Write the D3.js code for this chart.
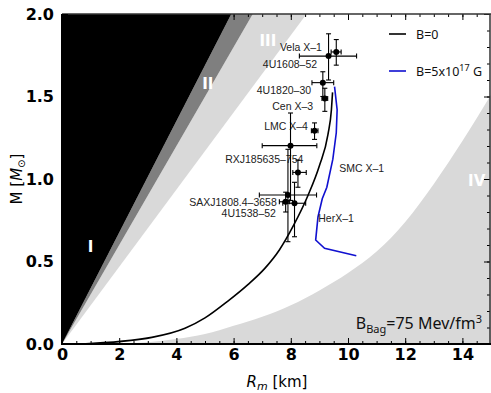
<!DOCTYPE html>
<html>
<head>
<meta charset="utf-8">
<script src="https://cdn.jsdelivr.net/npm/d3@7"></script>
<style>
  body { margin: 0; background: #fff; }
  svg { display: block; }
  .tick text { font-family: "DejaVu Sans", sans-serif; font-weight: bold; font-size: 16px; fill: #000; }
  .tick line { stroke: #000; }
  .domain { stroke: none; }
</style>
</head>
<body>
<svg id="mr" width="491" height="393"></svg>
<script>
// region boundaries: R where each straight limit reaches M = 2 (I black hole, II Buchdahl, III causality)
const limitTopR = [5.92, 6.67, 8.55];
// region IV (rotation limit) boundary
const rotR = [2, 3, 4, 5, 6, 7, 8, 9, 10, 11, 12, 13, 14, 15];
const rotM = [0, 0.01, 0.03, 0.06, 0.11, 0.165, 0.235, 0.325, 0.43, 0.56, 0.74, 0.97, 1.23, 1.51];

// mass-radius curves
const b0R = [0.7, 3.14, 4.3, 5.0, 5.8, 6.5, 7.1, 7.6, 8.1, 8.6, 9.0, 9.3, 9.42, 9.46];
const b0M = [0, 0.04, 0.095, 0.158, 0.26, 0.36, 0.46, 0.57, 0.72, 0.9, 1.08, 1.27, 1.42, 1.525];
const b17R = [9.53, 9.62, 9.59, 9.47, 9.26, 9.1, 8.95, 8.87, 9.18, 10.29];
const b17M = [1.56, 1.42, 1.28, 1.12, 0.95, 0.88, 0.77, 0.63, 0.58, 0.535];

// observed compact stars
const starNames = ["Vela X\u20131", "4U1608\u201352", "4U1820\u201330", "Cen X\u20133", "LMC X\u20134",
  "RXJ185635\u2013754", "SMC X\u20131", "SAXJ1808.4\u20133658", "4U1538\u201352", "HerX\u20131"];
const starR   = [9.32, 9.59, 9.12, 9.19, 8.83, 7.99, 8.25, 7.90, 8.13, 7.82];
const starM   = [1.745, 1.77, 1.584, 1.488, 1.293, 1.202, 1.04, 0.903, 0.853, 0.862];
const starRlo = [8.30, 9.41, 8.74, 9.09, 8.72, 7.00, 8.07, 6.90, 7.72, 7.60];
const starRhi = [10.3, 9.76, 9.50, 9.29, 8.95, 8.91, 8.54, 8.90, 8.52, 7.96];
const starMlo = [1.60, 1.69, 1.50, 1.41, 1.24, 0.87, 0.95, 0.62, 0.65, 0.80];
const starMhi = [1.88, 1.845, 1.65, 1.55, 1.34, 1.40, 1.115, 1.18, 0.98, 0.92];
// where each name is written (R, M of baseline) and its anchor
const labelR = [9.09, 8.92, 8.71, 8.78, 8.60, 8.44, 9.69, 7.51, 7.48, 8.96];
const labelM = [1.776, 1.673, 1.515, 1.421, 1.294, 1.097, 1.045, 0.836, 0.770, 0.739];
const labelEnd = [true, true, true, true, true, true, false, true, true, false];

const xTicks = [0, 2, 4, 6, 8, 10, 12, 14];
const yTicks = [0, 0.5, 1.0, 1.5, 2.0];
const regionNames = ["I", "II", "III", "IV"];
const regionR = [1.0, 5.1, 7.2, 14.5];
const regionM = [0.59, 1.58, 1.84, 0.99];

const svg = d3.select("svg#mr");
const x = d3.scaleLinear([0, 15], [62, 491]);
const y = d3.scaleLinear([0, 2], [344, 14]);

svg.append("defs").append("clipPath").attr("id", "plot")
  .append("rect").attr("x", 62).attr("y", 14).attr("width", 429).attr("height", 330);
const plot = svg.append("g").attr("clip-path", "url(#plot)");

// regions
const rotPts = rotR.map((r, i) => [r, rotM[i]]);
plot.append("path")
  .attr("d", d3.line().x(d => x(d[0])).y(d => y(d[1])).curve(d3.curveMonotoneX)(rotPts)
    + `L${x(15) + 2},${y(rotM[rotM.length - 1])}L${x(15) + 2},${y(0)}L${x(rotR[0])},${y(0)}Z`)
  .attr("fill", "#d9d9d9");
const wedge = (r0, r1) => d3.line().x(d => x(d[0])).y(d => y(d[1]))([[0, 0], [r0, 2], [r1, 2]]) + "Z";
plot.append("path").attr("d", wedge(limitTopR[1], limitTopR[2])).attr("fill", "#d9d9d9");
plot.append("path").attr("d", wedge(limitTopR[0], limitTopR[1])).attr("fill", "#7f7f7f");
plot.append("path").attr("d", wedge(0, limitTopR[0])).attr("fill", "#000");

plot.selectAll("text.region")
  .data(regionNames)
  .join("text")
  .attr("class", "region")
  .attr("x", (d, i) => x(regionR[i]))
  .attr("y", (d, i) => y(regionM[i]))
  .attr("text-anchor", "middle")
  .attr("dy", "0.35em")
  .attr("font-family", "DejaVu Sans")
  .attr("font-weight", "bold")
  .attr("font-size", 15)
  .attr("fill", "#fff")
  .text(d => d);

// curves
const line = d3.line().x(d => x(d[0])).y(d => y(d[1]));
plot.append("path").datum(b0R.map((r, i) => [r, b0M[i]]))
  .attr("d", line.curve(d3.curveMonotoneX)).attr("fill", "none").attr("stroke", "#000").attr("stroke-width", 1.6);
plot.append("path").datum(b17R.map((r, i) => [r, b17M[i]]))
  .attr("d", line.curve(d3.curveLinear)).attr("fill", "none").attr("stroke", "#1010d0").attr("stroke-width", 1.6);

// star labels
plot.selectAll("text.star")
  .data(starNames)
  .join("text")
  .attr("class", "star")
  .attr("x", (d, i) => x(labelR[i]))
  .attr("y", (d, i) => y(labelM[i]))
  .attr("text-anchor", (d, i) => labelEnd[i] ? "end" : "start")
  .attr("font-family", "Liberation Sans, Arial, sans-serif")
  .attr("font-size", 10.5)
  .attr("fill", "#222")
  .text(d => d);

// error bars
const cap = 2.5;
const bars = plot.append("g").attr("stroke", "#000").attr("stroke-width", 1.1);
starNames.forEach((n, i) => {
  const cx = x(starR[i]), cy = y(starM[i]);
  bars.append("line").attr("x1", x(starRlo[i])).attr("x2", x(starRhi[i])).attr("y1", cy).attr("y2", cy);
  bars.append("line").attr("x1", cx).attr("x2", cx).attr("y1", y(starMlo[i])).attr("y2", y(starMhi[i]));
  [starRlo[i], starRhi[i]].forEach(r => bars.append("line")
    .attr("x1", x(r)).attr("x2", x(r)).attr("y1", cy - cap).attr("y2", cy + cap));
  [starMlo[i], starMhi[i]].forEach(m => bars.append("line")
    .attr("x1", cx - cap).attr("x2", cx + cap).attr("y1", y(m)).attr("y2", y(m)));
});
plot.selectAll("circle")
  .data(starNames)
  .join("circle")
  .attr("cx", (d, i) => x(starR[i]))
  .attr("cy", (d, i) => y(starM[i]))
  .attr("r", 3)
  .attr("fill", "#000");

// frame and axes
const minorX = d3.range(0, 15.01, 0.5);
const minorY = d3.range(0, 2.001, 0.1);
const axes = svg.append("g");
axes.append("g").attr("transform", `translate(0,${y(2)})`)
  .call(d3.axisTop(x).tickValues(minorX).tickSize(-3).tickFormat(""))
  .call(g => g.selectAll(".tick line").attr("stroke", "#333"));
axes.append("g").attr("transform", `translate(0,${y(2)})`)
  .call(d3.axisTop(x).tickValues(xTicks).tickSize(-6).tickFormat(""));
axes.append("g").attr("transform", `translate(${x(15) - 1},0)`)
  .call(d3.axisRight(y).tickValues(minorY).tickSize(-3).tickFormat(""))
  .call(g => g.selectAll(".tick line").attr("stroke", "#333"));
axes.append("g").attr("transform", `translate(${x(15) - 1},0)`)
  .call(d3.axisRight(y).tickValues(yTicks).tickSize(-6).tickFormat(""));
axes.append("line").attr("x1", 62).attr("x2", 491).attr("y1", y(2)).attr("y2", y(2))
  .attr("stroke", "#333").attr("stroke-width", 1.5);
axes.append("line").attr("x1", x(15) - 1).attr("x2", x(15) - 1).attr("y1", y(2)).attr("y2", y(0))
  .attr("stroke", "#333").attr("stroke-width", 1.5);

axes.append("g").attr("transform", `translate(0,${y(0)})`)
  .call(d3.axisBottom(x).tickValues(minorX).tickSize(-3).tickFormat(""));
axes.append("g").attr("transform", `translate(0,${y(0)})`)
  .call(d3.axisBottom(x).tickValues(xTicks).tickSize(-6).tickPadding(14).tickFormat(d3.format("d")))
  .call(g => g.selectAll(".tick text").attr("dy", "0.1em"));
axes.append("g").attr("transform", `translate(${x(0)},0)`)
  .call(d3.axisLeft(y).tickValues(yTicks).tickSize(-6).tickPadding(8).tickFormat(d3.format(".1f")));
axes.append("line").attr("x1", 61).attr("x2", 491).attr("y1", y(0)).attr("y2", y(0))
  .attr("stroke", "#000").attr("stroke-width", 2);
axes.append("line").attr("x1", x(0)).attr("x2", x(0)).attr("y1", y(2)).attr("y2", y(0) + 1)
  .attr("stroke", "#000").attr("stroke-width", 2);

// axis titles
const xt = svg.append("text").attr("x", 277).attr("y", 387).attr("text-anchor", "middle")
  .attr("font-family", "DejaVu Sans").attr("font-size", 15);
xt.append("tspan").attr("font-style", "italic").text("R");
xt.append("tspan").attr("font-style", "italic").attr("font-size", 11).attr("dy", 3).text("m");
xt.append("tspan").attr("dy", -3).text(" [km]");

const yt = svg.append("text").attr("transform", "translate(22,179) rotate(-90)").attr("text-anchor", "middle")
  .attr("font-family", "DejaVu Sans").attr("font-size", 15);
yt.append("tspan").text("M [");
yt.append("tspan").attr("font-style", "italic").text("M");
yt.append("tspan").attr("font-size", 10).attr("dy", 3).text("\u2299");
yt.append("tspan").attr("dy", -3).text("]");

// legend
const legendNames = ["B=0", "B=5x10"];
const legendColors = ["#000", "#1010d0"];
const lg = svg.append("g").attr("font-family", "Noto Sans").attr("font-size", 12.5).attr("fill", "#111");
legendNames.forEach((n, i) => {
  const ly = 34 + i * 37;
  lg.append("line").attr("x1", 389).attr("x2", 406).attr("y1", ly).attr("y2", ly)
    .attr("stroke", legendColors[i]).attr("stroke-width", 1.6);
  const t = lg.append("text").attr("x", 416).attr("y", ly + 4.5).text(n);
  if (i === 1) {
    t.append("tspan").attr("font-size", 9).attr("dy", -5).text("17");
    t.append("tspan").attr("dy", 5).text(" G");
  }
});

// bag constant note
const bt = svg.append("text").attr("x", 482).attr("y", 329).attr("text-anchor", "end")
  .attr("font-family", "Noto Sans").attr("font-size", 16).attr("fill", "#111");
bt.append("tspan").text("B");
bt.append("tspan").attr("font-size", 11).attr("dy", 4).text("Bag");
bt.append("tspan").attr("dy", -4).text("=75 Mev/fm");
bt.append("tspan").attr("font-size", 11).attr("dy", -6).text("3");
</script>
</body>
</html>
